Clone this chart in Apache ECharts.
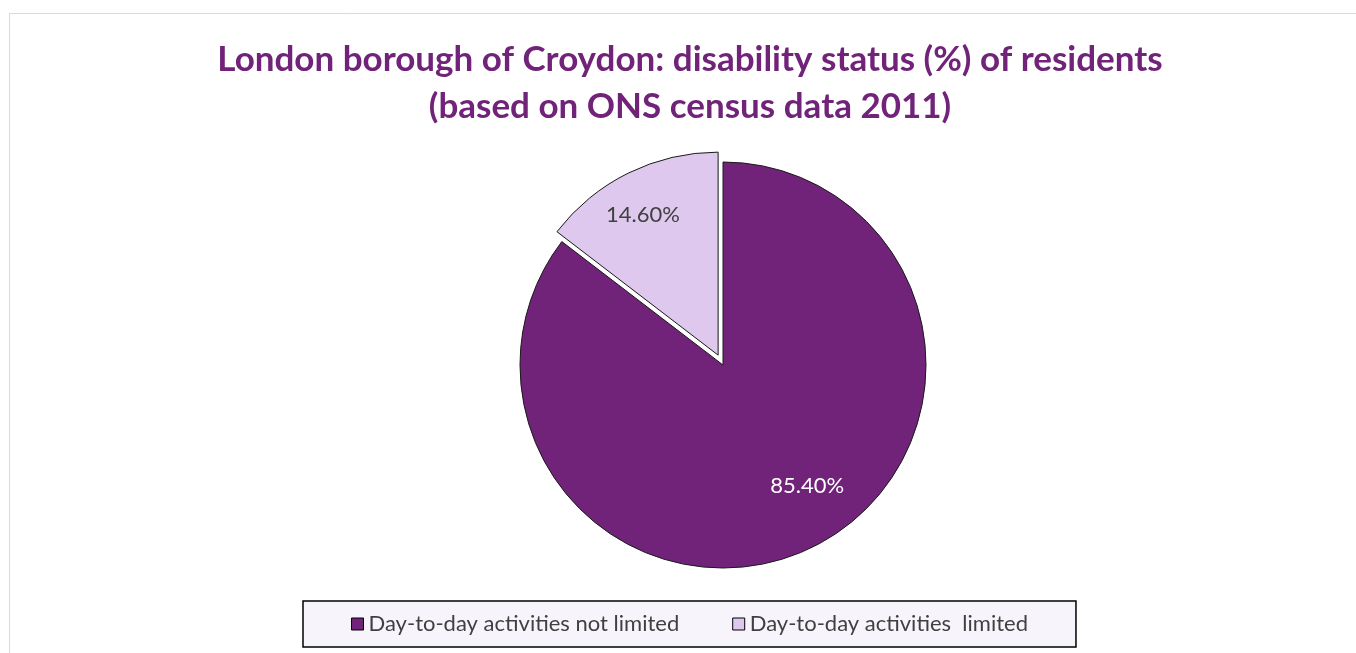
<!DOCTYPE html>
<html>
<head>
<meta charset="utf-8">
<script src="https://cdn.jsdelivr.net/npm/echarts@6/dist/echarts.min.js"></script>
<style>html,body{margin:0;padding:0;background:#fff;}#chart{width:1356px;height:653px;}</style>
</head>
<body>
<div id="chart"></div>
<script>
const titleText = 'London borough of Croydon: disability status (%) of residents\n(based on ONS census data 2011)';
const categories = ['Day-to-day activities not limited', 'Day-to-day activities  limited'];
const values = [85.4, 14.6];
const colors = ['#71237A', '#DFC8EE'];
const selectedFlags = [false, true];
const labelShifts = [[38, 27], [-29, -47]];
const labelColors = ['#ffffff', '#404040'];

const chart = echarts.init(document.getElementById('chart'), null, {renderer: 'canvas'});
const option = {
  backgroundColor: '#ffffff',
  animation: false,
  graphic: [{
    type: 'rect', silent: true, z: -10,
    shape: {x: 9.5, y: 13.5, width: 1400, height: 700},
    style: {fill: 'none', stroke: '#d9d9d9', lineWidth: 1}
  }, {
    type: 'text', silent: true,
    x: 690, y: 36,
    style: {
      text: titleText,
      align: 'center',
      verticalAlign: 'top',
      fontFamily: 'Lato',
      fontWeight: 'bold',
      fontSize: 35,
      lineHeight: 47,
      fill: '#71237A'
    }
  }],
  legend: {
    data: categories,
    left: 303,
    top: 601,
    padding: [12, 48, 12, 48],
    itemGap: 53,
    itemWidth: 12,
    itemHeight: 12,
    icon: 'rect',
    backgroundColor: '#F8F4FC',
    borderColor: '#000000',
    borderWidth: 1.5,
    borderRadius: 0,
    itemStyle: {borderColor: '#000', borderWidth: 1},
    textStyle: {fontFamily: 'Lato', fontSize: 22, color: '#404040'}
  },
  series: [{
    type: 'pie',
    center: [723, 365],
    radius: [0, 203],
    startAngle: 90,
    clockwise: true,
    selectedMode: 'multiple',
    selectedOffset: 11,
    avoidLabelOverlap: false,
    itemStyle: {borderColor: '#1a1a1a', borderWidth: 1},
    emphasis: {disabled: true},
    labelLine: {show: false},
    label: {
      show: true,
      position: 'inside',
      formatter: p => p.value.toFixed(2) + '%',
      fontFamily: 'Lato',
      fontSize: 22
    },
    labelLayout: p => ({dx: labelShifts[p.dataIndex][0], dy: labelShifts[p.dataIndex][1]}),
    data: categories.map((c, i) => ({
      name: c,
      value: values[i],
      selected: selectedFlags[i],
      itemStyle: {color: colors[i]},
      label: {color: labelColors[i]}
    }))
  }]
};
chart.setOption(option);
</script>
</body>
</html>
